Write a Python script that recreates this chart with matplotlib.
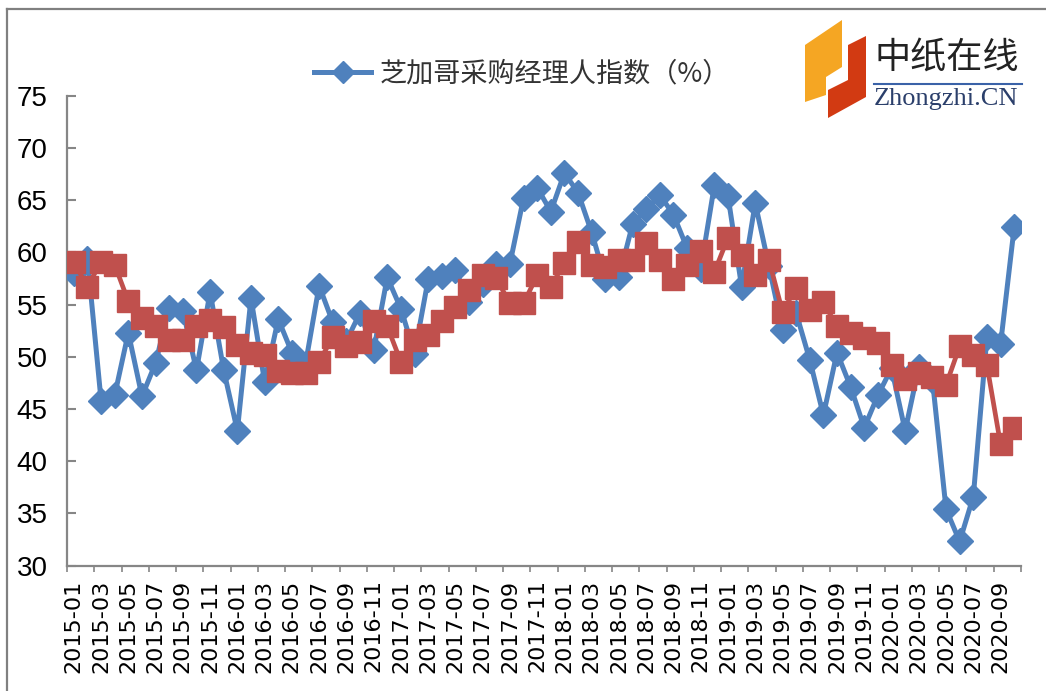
import matplotlib
matplotlib.use('Agg')
import matplotlib.pyplot as plt
from matplotlib.patches import Polygon
from matplotlib.lines import Line2D
import numpy as np

# ---------------- data ----------------
categories = [f"{y}-{m:02d}" for y in range(2015, 2021) for m in range(1, 13)][:70]

chicago_pmi = [58.0, 59.4, 45.8, 46.3, 52.3, 46.2, 49.4, 54.7, 54.4, 48.7,
               56.2, 48.7, 42.9, 55.6, 47.6, 53.6, 50.4, 49.3, 56.8, 53.3,
               51.5, 54.2, 50.6, 57.6, 54.6, 50.3, 57.4, 57.7, 58.3, 55.2,
               57.0, 58.9, 58.9, 65.2, 66.2, 63.9, 67.6, 65.7, 61.9, 57.4,
               57.6, 62.7, 64.1, 65.5, 63.6, 60.4, 58.4, 66.4, 65.4, 56.7,
               64.7, 58.7, 52.6, 54.2, 49.7, 44.4, 50.4, 47.1, 43.2, 46.3,
               48.9, 42.9, 49.0, 47.8, 35.4, 32.3, 36.6, 51.9, 51.2, 62.4]

second_series = [59.1, 56.7, 59.1, 58.8, 55.3, 53.7, 52.9, 51.6, 51.6, 52.9,
                 53.5, 52.8, 51.1, 50.4, 50.2, 48.6, 48.4, 48.4, 49.5, 51.9,
                 51.0, 51.4, 53.4, 52.9, 49.5, 51.6, 52.1, 53.4, 54.8, 56.4,
                 57.8, 57.5, 55.1, 55.1, 57.8, 56.7, 59.0, 61.0, 58.8, 58.6,
                 59.3, 59.3, 60.9, 59.3, 57.4, 58.8, 60.1, 58.1, 61.4, 59.7,
                 57.8, 59.3, 54.3, 56.6, 54.5, 55.2, 52.9, 52.3, 51.8, 51.3,
                 49.2, 47.9, 48.4, 48.1, 47.3, 51.0, 50.2, 49.2, 41.6, 43.2]

legend_label = "芝加哥采购经理人指数（%）"
y_ticks = [30, 35, 40, 45, 50, 55, 60, 65, 70, 75]

# ---------------- figure ----------------
W, H = 1046, 691
fig = plt.figure(figsize=(W / 100, H / 100), dpi=100)
fig.patch.set_facecolor('white')

ax = fig.add_axes([67 / W, 1 - 565.5 / H, (1021 - 67) / W, (565.5 - 95.7) / H])
x = np.arange(len(categories))

ax.plot(x, chicago_pmi, color='#4F81BD', lw=3.6, marker='D', ms=13,
        label=legend_label, zorder=3, solid_joinstyle='round')
ax.plot(x, second_series, color='#C0504D', lw=3.4, marker='s', ms=15.5,
        label='_nolegend_', zorder=4, solid_joinstyle='round')

ax.set_xlim(-0.5, len(categories) - 0.5)
ax.set_ylim(y_ticks[0], y_ticks[-1])
ax.set_yticks(y_ticks)
ax.set_yticklabels([str(v) for v in y_ticks], family='Liberation Sans', fontsize=20)
ax.tick_params(axis='y', direction='in', length=6.5, width=1.5, color='#868686',
               pad=14, labelcolor='#000000')

ax.set_xticks(x[::2])
ax.set_xticklabels(categories[::2], rotation=90, family='DejaVu Sans', fontsize=16)
ax.tick_params(axis='x', which='major', length=0, pad=10)
ax.set_xticks(np.arange(-0.5, len(categories), 2), minor=True)
ax.tick_params(axis='x', which='minor', direction='out', length=4, width=1.2,
               color='#868686')

for s in ['top', 'right']:
    ax.spines[s].set_visible(False)
for s in ['left', 'bottom']:
    ax.spines[s].set_color('#868686')
    ax.spines[s].set_linewidth(1.6)

leg = ax.legend(loc='center', bbox_to_anchor=(522 / W, 1 - 74 / H),
                bbox_transform=fig.transFigure, frameon=False,
                prop={'family': ['Noto Sans CJK SC', 'DejaVu Sans'], 'size': 19.5},
                handlelength=2.1, handletextpad=0.3, borderpad=0, markerscale=0.9)
for t in leg.get_texts():
    t.set_color('#333333')

# ---------------- frame ----------------
fig.add_artist(Line2D([7 / W, 7 / W], [0, 1 - 9 / H], transform=fig.transFigure,
                      color='#808080', lw=1.6))
fig.add_artist(Line2D([7 / W, 1], [1 - 9 / H, 1 - 9 / H], transform=fig.transFigure,
                      color='#808080', lw=1.6))

# ---------------- logo ----------------
def px(pts):
    return [(a / W, 1 - b / H) for a, b in pts]

fig.add_artist(Polygon(px([(805, 45), (842, 20), (842, 67), (826, 77), (826, 95), (805, 102)]),
                       closed=True, transform=fig.transFigure, facecolor='#F5A623',
                       edgecolor='none'))
fig.add_artist(Polygon(px([(848, 45), (866, 36), (866, 97), (828, 118), (828, 90), (848, 80)]),
                       closed=True, transform=fig.transFigure, facecolor='#D23A12',
                       edgecolor='none'))
fig.text(874 / W, 1 - 58 / H, "中纸在线", family=['Noto Sans CJK SC'], fontsize=26,
         color='#222222', ha='left', va='center')
fig.add_artist(Line2D([874 / W, 1022 / W], [1 - 84 / H, 1 - 84 / H], transform=fig.transFigure,
                      color='#3A62A8', lw=1.5))
fig.text(874 / W, 1 - 99 / H, "Zhongzhi.CN", family='Liberation Serif', fontsize=19,
         color='#2B3F6B', ha='left', va='center')

fig.savefig('out.png', dpi=100)
